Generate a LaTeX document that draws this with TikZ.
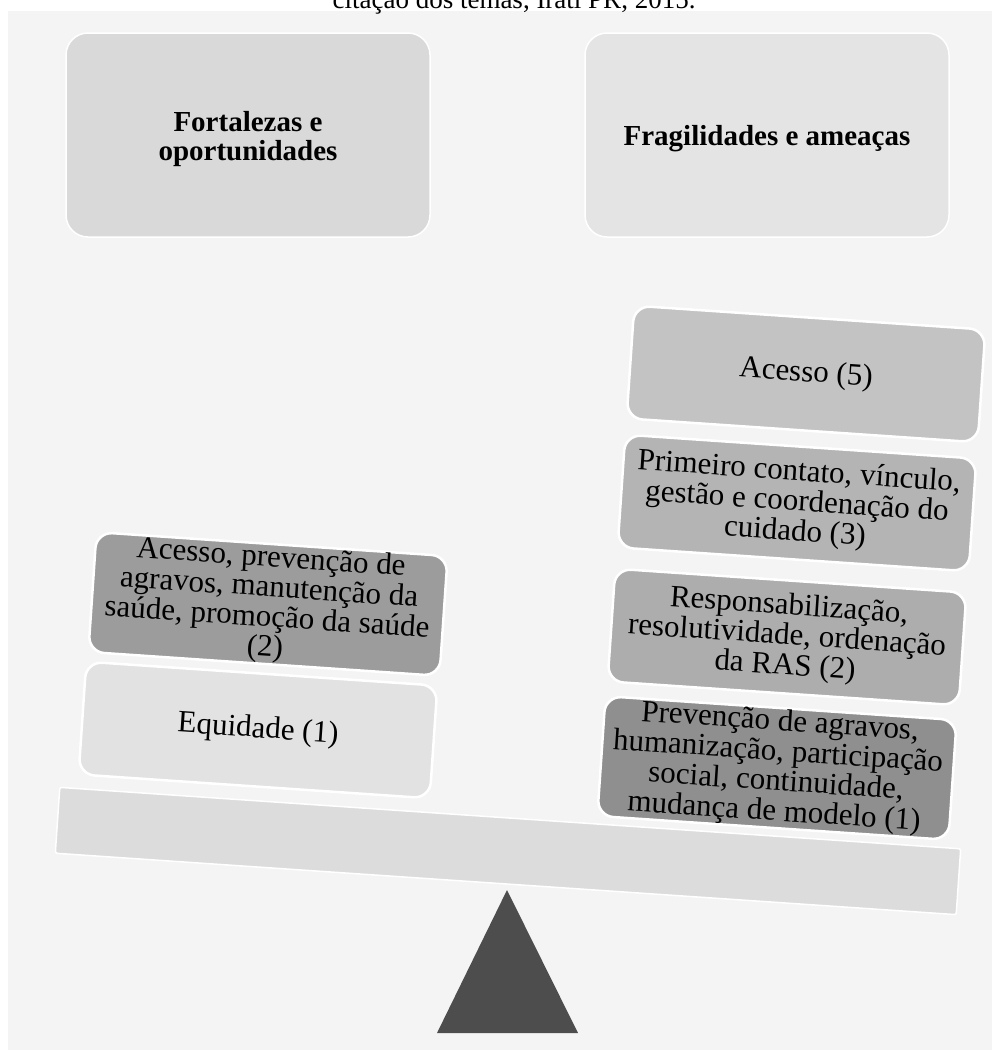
\documentclass[tikz,border=0pt]{standalone}
\usepackage{fontspec}
\setmainfont{Liberation Serif}
\definecolor{bgc}{HTML}{F4F4F4}
\definecolor{ctl}{HTML}{D9D9D9}
\definecolor{ctr}{HTML}{E4E4E4}
\definecolor{cafive}{HTML}{C3C3C3}
\definecolor{cpc}{HTML}{B4B4B4}
\definecolor{crr}{HTML}{ADADAD}
\definecolor{cpa}{HTML}{8F8F8F}
\definecolor{cap}{HTML}{9C9C9C}
\definecolor{ceq}{HTML}{E2E2E2}
\definecolor{cbeam}{HTML}{DCDCDC}
\definecolor{ctri}{HTML}{4D4D4D}
\begin{document}
\begin{tikzpicture}[x=1pt,y=-1pt,
  titlebox/.style={rounded corners=22pt, draw=white, line width=1.5pt,
    minimum width=364pt, minimum height=204pt},
  titletext/.style={align=center, inner sep=0pt,
    font=\bfseries\fontsize{29}{29}\selectfont},
  itembox/.style={rounded corners=16pt, draw=white, line width=2.5pt,
    minimum width=352pt, minimum height=113pt, align=center, inner sep=1pt,
    rotate=-3.9, font=\fontsize{31}{30}\selectfont},
  beambox/.style={draw=white, line width=1.5pt, rounded corners=2pt,
    minimum width=903pt, minimum height=66pt, rotate=-3.9}]
\useasboundingbox (0,0) rectangle (992,1050);
\fill[bgc] (8,11) rectangle (992,1050);
\node[anchor=base, font=\fontsize{27}{29}\selectfont, inner sep=0pt] (caption) at (514,8) {citação dos temas, Irati PR, 2015.};
% top boxes
\node[titlebox, fill=ctl] (fo) at (248,135) {};
\node[titletext] (fot) at (248,139) {Fortalezas e\\oportunidades};
\node[titlebox, fill=ctr] (fa) at (767,135) {};
\node[titletext] (fat) at (767,139) {Fragilidades e ameaças};
% beam
\node[beambox, fill=cbeam] (beam) at (508,851) {};
% fulcrum
\fill[ctri] (507,890) -- (578,1033) -- (437,1033) -- cycle;
% right stack
\node[itembox, fill=cafive] (a5) at (806,374) {Acesso (5)};
\node[itembox, fill=cpc] (pc) at (797,503) {Primeiro contato, vínculo,\\gestão e coordenação do\\cuidado (3)};
\node[itembox, fill=crr] (rr) at (787,637) {Responsabilização,\\resolutividade, ordenação\\da RAS (2)};
\node[itembox, fill=cpa] (pa) at (777,768) {Prevenção de agravos,\\humanização, participação\\social, continuidade,\\mudança de modelo (1)};
% left stack
\node[itembox, fill=cap] (ap) at (268,604) {Acesso, prevenção de\\agravos, manutenção da\\saúde, promoção da saúde\\(2)};
\node[itembox, fill=ceq] (eq) at (258,730) {Equidade (1)};
\end{tikzpicture}
\end{document}
